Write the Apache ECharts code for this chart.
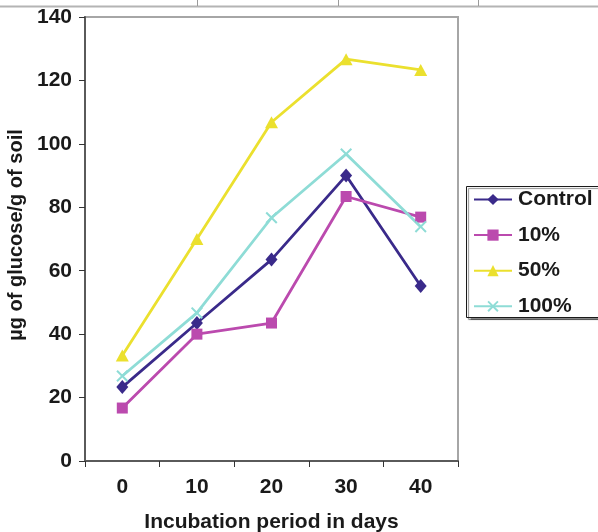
<!DOCTYPE html>
<html>
<head>
<meta charset="utf-8">
<script src="https://cdn.jsdelivr.net/npm/echarts@6/dist/echarts.min.js"></script>
<style>
  html, body { margin: 0; padding: 0; background: #fff; }
  #chart { width: 598px; height: 532px; }
</style>
</head>
<body>
<div id="chart"></div>
<script>
// Incubation days (x categories)
const days = ['0', '10', '20', '30', '40'];

// Glucose released, µg per g of soil
const controlValues = [23.3, 43.5, 63.5, 90.0, 55.2];
const pct10Values   = [16.7, 40.0, 43.5, 83.4, 76.9];
const pct50Values   = [33.3, 70.0, 106.8, 126.7, 123.3];
const pct100Values  = [26.8, 46.7, 76.7, 96.8, 73.9];

const seriesNames = ['Control', '10%', '50%', '100%'];

// Y axis ticks
const yMin = 0, yMax = 140, yStep = 20;

const FONT = 'Liberation Sans, Arial, sans-serif';
const crossPath = 'path://M0,1.2L1.2,0L5,3.8L8.8,0L10,1.2L6.2,5L10,8.8L8.8,10L5,6.2L1.2,10L0,8.8L3.8,5Z';

function makeSeries(name, data, color, symbol, size) {
  return {
    name: name,
    type: 'line',
    data: data,
    symbol: symbol,
    symbolSize: size,
    showAllSymbol: true,
    lineStyle: { color: color, width: 2.8 },
    itemStyle: { color: color, borderWidth: 0 },
    emphasis: { disabled: true },
    z: 3
  };
}

const chart = echarts.init(document.getElementById('chart'), null, { renderer: 'canvas' });

chart.setOption({
  animation: false,
  backgroundColor: '#ffffff',
  grid: {
    left: 85, right: 140, top: 17, bottom: 71,
    containLabel: false,
    outerBoundsMode: 'none',
    show: true,
    borderColor: '#a6a6a6',
    borderWidth: 2,
    backgroundColor: 'transparent'
  },
  xAxis: {
    type: 'category',
    data: days,
    boundaryGap: true,
    name: 'Incubation period in days',
    nameLocation: 'middle',
    nameGap: 51,
    nameTextStyle: { fontFamily: FONT, fontWeight: 'bold', fontSize: 21, color: '#1a1a1a' },
    axisLine: { show: true, lineStyle: { color: '#5a5a5a', width: 2 } },
    axisTick: { show: true, alignWithLabel: false, inside: false, length: 6, lineStyle: { color: '#333', width: 1 } },
    axisLabel: { margin: 16, fontFamily: FONT, fontWeight: 'bold', fontSize: 21, color: '#1a1a1a' },
    splitLine: { show: false }
  },
  yAxis: {
    type: 'value',
    min: yMin, max: yMax, interval: yStep,
    name: 'µg of glucose/g of soil',
    nameLocation: 'middle',
    nameGap: 58,
    nameRotate: 90,
    nameTextStyle: { fontFamily: FONT, fontWeight: 'bold', fontSize: 20, color: '#1a1a1a', padding: [0, 0, 0, 8] },
    axisLine: { show: true, lineStyle: { color: '#5a5a5a', width: 2 } },
    axisTick: { show: true, inside: false, length: 6, lineStyle: { color: '#333', width: 1 } },
    axisLabel: { margin: 13, fontFamily: FONT, fontWeight: 'bold', fontSize: 21, color: '#1a1a1a' },
    splitLine: { show: false }
  },
  legend: {
    orient: 'vertical',
    left: 473,
    top: 189,
    data: seriesNames,
    itemWidth: 38,
    itemHeight: 14,
    itemGap: 14.6,
    padding: 0,
    selectedMode: false,
    textStyle: { fontFamily: FONT, fontWeight: 'bold', fontSize: 21, color: '#1a1a1a', lineHeight: 21, padding: [0, 0, 0, 1] }
  },
  graphic: [
    // legend frame running past the right edge
    {
      type: 'rect', z: -1, silent: true,
      shape: { x: 466.5, y: 186.5, width: 150, height: 131 },
      style: { fill: '#fff', stroke: '#1a1a1a', lineWidth: 1, shadowColor: 'rgba(0,0,0,0.45)', shadowOffsetX: 2, shadowOffsetY: 2, shadowBlur: 1 }
    },
    // table rule above the chart
    { type: 'line', silent: true, shape: { x1: 0, y1: 6.5, x2: 598, y2: 6.5 }, style: { stroke: '#b4b4b4', lineWidth: 2 } },
    { type: 'line', silent: true, shape: { x1: 197.5, y1: 0, x2: 197.5, y2: 6 }, style: { stroke: '#9a9a9a', lineWidth: 1 } },
    { type: 'line', silent: true, shape: { x1: 338.5, y1: 0, x2: 338.5, y2: 6 }, style: { stroke: '#9a9a9a', lineWidth: 1 } },
    { type: 'line', silent: true, shape: { x1: 478.5, y1: 0, x2: 478.5, y2: 6 }, style: { stroke: '#9a9a9a', lineWidth: 1 } }
  ],
  series: [
    makeSeries(seriesNames[0], controlValues, '#3a2a8a', 'diamond', [12, 14]),
    makeSeries(seriesNames[1], pct10Values, '#bb4aae', 'rect', 11),
    makeSeries(seriesNames[2], pct50Values, '#ebe02e', 'triangle', [13, 12]),
    makeSeries(seriesNames[3], pct100Values, '#8edcd6', crossPath, 12)
  ]
});
</script>
</body>
</html>
